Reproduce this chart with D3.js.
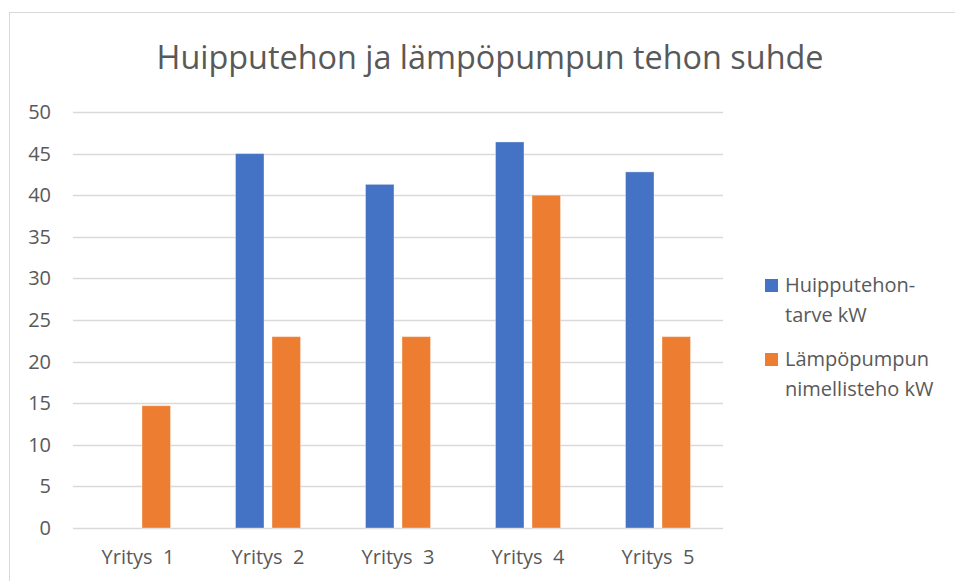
<!DOCTYPE html>
<html>
<head>
<meta charset="utf-8">
<script src="https://cdn.jsdelivr.net/npm/d3@7"></script>
<style>
  body { margin: 0; background: #fff; }
  text { font-family: "Open Sans", sans-serif; fill: #595959; }
</style>
</head>
<body>
<div id="chart"></div>
<script>
// Chart data
var categories = ["Yritys  1", "Yritys  2", "Yritys  3", "Yritys  4", "Yritys  5"];
var seriesNames = ["Huipputehon-tarve kW", "Lämpöpumpun nimellisteho kW"];
var legendLines = [["Huipputehon-", "tarve kW"], ["Lämpöpumpun", "nimellisteho kW"]];
var huipputeho = [null, 45, 41.3, 46.4, 42.8];
var lampopumppu = [14.7, 23, 23, 40, 23];
var yTicks = [0, 5, 10, 15, 20, 25, 30, 35, 40, 45, 50];
var colors = ["#4472C4", "#ED7D31"];

var width = 955, height = 581;
var margin = {top: 112, right: 232, bottom: 53, left: 73};

var svg = d3.select("#chart")
  .append("svg")
    .attr("width", width)
    .attr("height", height);

// Chart area border (runs off the right and bottom edge)
svg.append("rect")
    .attr("x", 9.5)
    .attr("y", 12.5)
    .attr("width", 1000)
    .attr("height", 700)
    .attr("fill", "none")
    .attr("stroke", "#d9d9d9")
    .attr("stroke-width", 1);

// Title
svg.append("text")
    .attr("x", 490)
    .attr("y", 69)
    .attr("text-anchor", "middle")
    .style("font-size", "32.4px")
    .text("Huipputehon ja lämpöpumpun tehon suhde");

var g = svg.append("g")
    .attr("transform", "translate(" + margin.left + "," + margin.top + ")");

var plotW = width - margin.left - margin.right;
var plotH = height - margin.top - margin.bottom;

var y = d3.scaleLinear()
    .domain([0, 50])
    .range([plotH, 0]);

var x0 = d3.scaleBand()
    .domain(categories)
    .range([0, plotW]);

var x1 = d3.scaleBand()
    .domain([0, 1])
    .range([32.5, x0.bandwidth() - 32.5])
    .paddingInner(0.22);

// Gridlines
g.append("g")
    .selectAll("line")
    .data(yTicks)
    .enter()
    .append("line")
      .attr("x1", 0)
      .attr("x2", plotW)
      .attr("y1", function(d) { return Math.round(y(d)) + 0.5; })
      .attr("y2", function(d) { return Math.round(y(d)) + 0.5; })
      .attr("stroke", "#d9d9d9")
      .attr("stroke-width", 1.5);

// Y axis labels
var yAxis = g.append("g")
    .call(d3.axisLeft(y).tickValues(yTicks).tickSize(0).tickPadding(22));
yAxis.select(".domain").remove();
yAxis.selectAll("text")
    .style("font-size", "20px")
    .style("font-family", "'Open Sans', sans-serif")
    .attr("fill", "#595959");

// X axis labels
var xAxis = g.append("g")
    .attr("transform", "translate(0," + plotH + ")")
    .call(d3.axisBottom(x0).tickSize(0).tickPadding(22));
xAxis.select(".domain").remove();
xAxis.selectAll("text")
    .style("font-size", "20px")
    .style("white-space", "pre")
    .style("font-family", "'Open Sans', sans-serif")
    .attr("fill", "#595959");

// Bars
var rows = categories.map(function(c, i) {
  return {cat: c, vals: [huipputeho[i], lampopumppu[i]]};
});

var groups = g.selectAll(".cat")
    .data(rows)
    .enter()
    .append("g")
      .attr("class", "cat")
      .attr("transform", function(d) { return "translate(" + x0(d.cat) + ",0)"; });

groups.selectAll("rect")
    .data(function(d) {
      return d.vals.map(function(v, k) { return {k: k, v: v}; })
        .filter(function(e) { return e.v != null; });
    })
    .enter()
    .append("rect")
      .attr("x", function(d) { return x1(d.k); })
      .attr("width", x1.bandwidth())
      .attr("y", function(d) { return y(d.v); })
      .attr("height", function(d) { return y(0) - y(d.v); })
      .attr("fill", function(d) { return colors[d.k]; })
      .attr("stroke", "#ffffff")
      .attr("stroke-opacity", 0.35)
      .attr("stroke-width", 1);

// Legend
var legend = svg.append("g")
    .attr("transform", "translate(765,279)");

var items = legend.selectAll(".item")
    .data(seriesNames)
    .enter()
    .append("g")
      .attr("class", "item")
      .attr("transform", function(d, i) { return "translate(0," + (i * 74) + ")"; });

items.append("rect")
    .attr("width", 13)
    .attr("height", 13)
    .attr("fill", function(d, i) { return colors[i]; });

items.each(function(d, i) {
  var t = d3.select(this).append("text")
      .attr("x", 20)
      .attr("y", 13)
      .style("font-size", "20px");
  legendLines[i].forEach(function(line, j) {
    t.append("tspan")
      .attr("x", 20)
      .attr("dy", j == 0 ? 0 : 30)
      .text(line);
  });
});
</script>
</body>
</html>
